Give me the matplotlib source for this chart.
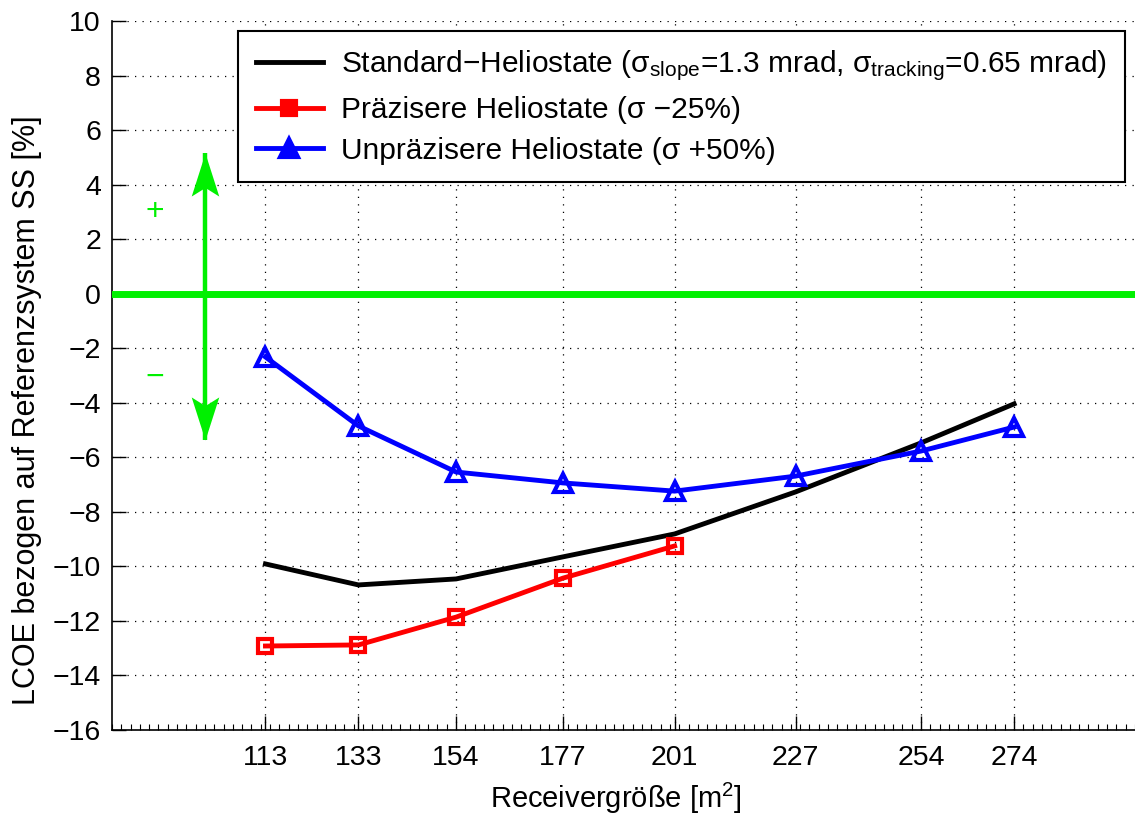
import matplotlib
matplotlib.use("Agg")
import matplotlib.pyplot as plt
from matplotlib.ticker import MultipleLocator, FixedLocator
from matplotlib.path import Path

plt.rcParams['font.family'] = ['Liberation Sans', 'DejaVu Sans']
plt.rcParams['mathtext.fontset'] = 'custom'
plt.rcParams['mathtext.rm'] = 'Liberation Sans'
plt.rcParams['mathtext.it'] = 'Liberation Sans:italic'
plt.rcParams['mathtext.bf'] = 'Liberation Sans:bold'

receiver = [113, 133, 154, 177, 201, 227, 254, 274]
standard = [-9.91, -10.68, -10.46, -9.65, -8.81, -7.27, -5.47, -4.04]
precise_x = [113, 133, 154, 177, 201]
precise = [-12.92, -12.88, -11.86, -10.43, -9.25]
imprecise = [-2.32, -4.85, -6.54, -6.94, -7.24, -6.69, -5.77, -4.89]
yticks = list(range(-16, 11, 2))

labels = ['Standard−Heliostate (σ$_{\\mathrm{slope}}$=1.3 mrad, σ$_{\\mathrm{tracking}}$=0.65 mrad)',
          'Präzisere Heliostate (σ −25%)',
          'Unpräzisere Heliostate (σ +50%)']

# annotation (arrow) extents and sign positions
arrow_x = 100
arrow_y = [-5.37, 5.16]
sign_x = 89.3
plus_y, minus_y = 3.0, -3.1

green = '#00f000'

fig = plt.figure(figsize=(11.35, 8.16), dpi=100)
ax = fig.add_axes([112/1135, 86/816, (1135-112)/1135, 709/816])

ax.plot(receiver, standard, color='black', lw=3.5, label=labels[0], zorder=5)
ax.plot(precise_x, precise, color='red', lw=3.5, marker='s', ms=10, mew=3,
        mfc='none', mec='red', label=labels[1], zorder=5)
ax.plot(receiver, imprecise, color='blue', lw=3.5, marker='^', ms=13, mew=3,
        mfc='none', mec='blue', label=labels[2], zorder=5)

ax.axhline(0, color=green, lw=5, zorder=4)

# double arrow with concave heads
ax.plot([arrow_x, arrow_x], arrow_y, color=green, lw=3.2, zorder=4,
        solid_capstyle='butt')
up_head = Path([(0, 0), (0.32, -1), (0, -0.8), (-0.32, -1), (0, 0)],
               [Path.MOVETO, Path.LINETO, Path.LINETO, Path.LINETO, Path.CLOSEPOLY])
down_head = Path([(0, 0), (0.32, 1), (0, 0.8), (-0.32, 1), (0, 0)],
                 [Path.MOVETO, Path.LINETO, Path.LINETO, Path.LINETO, Path.CLOSEPOLY])
ax.plot([arrow_x], [arrow_y[1]], marker=up_head, ms=62, color=green, mew=0, zorder=4)
ax.plot([arrow_x], [arrow_y[0]], marker=down_head, ms=62, color=green, mew=0, zorder=4)

ax.text(sign_x, plus_y, '+', color=green, fontsize=23, ha='center', va='center')
ax.text(sign_x, minus_y, '−', color=green, fontsize=23, ha='center', va='center')

ax.set_xlim(80, 300)
ax.set_ylim(-16, 10)
ax.xaxis.set_major_locator(FixedLocator(receiver))
ax.xaxis.set_minor_locator(MultipleLocator(2))
ax.set_yticks(yticks)
ax.set_xticklabels([str(v) for v in receiver])
ax.set_yticklabels([str(v).replace('-', '−') for v in yticks])

ax.tick_params(axis='both', which='major', direction='in', length=10, width=1,
               labelsize=20.5, pad=8)
ax.tick_params(axis='x', which='minor', direction='in', length=4, width=0.8)
ax.tick_params(axis='x', which='major', pad=11)

for s in ['top', 'right']:
    ax.spines[s].set_visible(False)
for s in ['left', 'bottom']:
    ax.spines[s].set_linewidth(1.2)

ax.grid(True, which='major', color='black', linestyle=(0, (1, 5)), lw=0.9)

ax.set_xlabel('Receivergröße [m$^2$]', fontsize=21)
ax.set_ylabel('LCOE bezogen auf Referenzsystem SS [%]', fontsize=22)
ax.xaxis.set_label_coords(0.4927, -0.072)
ax.yaxis.set_label_coords(-0.068, 0.451)

leg = ax.legend(loc='upper right', bbox_to_anchor=(0.990, 0.986), fontsize=21.5,
                frameon=True, fancybox=False, edgecolor='black', framealpha=1,
                handlelength=2.25, handletextpad=0.6, labelspacing=0.42,
                borderpad=0.6, borderaxespad=0)
leg.get_frame().set_linewidth(1.5)
for h in leg.legend_handles:
    h.set_markerfacecolor(h.get_color())

fig.savefig('out.png', dpi=100)
